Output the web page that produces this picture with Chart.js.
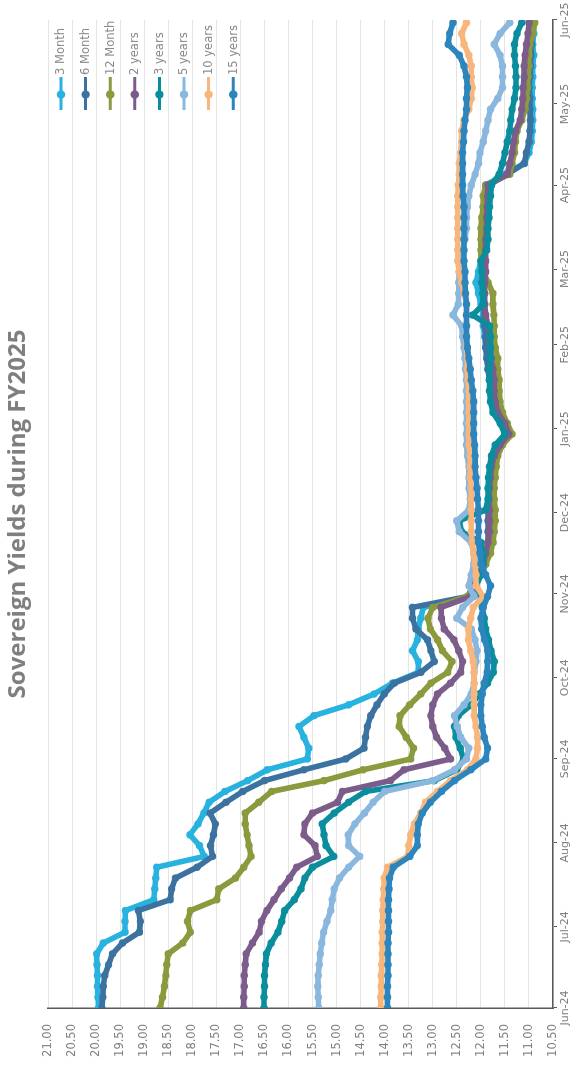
<!DOCTYPE html>
<html>
<head>
<meta charset="utf-8">
<script src="https://cdn.jsdelivr.net/npm/chart.js@4.4.1/dist/chart.umd.min.js"></script>
<style>
html, body { margin: 0; padding: 0; background: #ffffff; width: 576px; height: 1068px; overflow: hidden; }
/* the chart is laid out landscape and turned a quarter turn to stand upright on the page */
#wrap { position: absolute; left: 0; top: 0; width: 1068px; height: 576px;
        transform-origin: 0 0; transform: translateY(1068px) rotate(-90deg); }
canvas { display: block; }
</style>
</head>
<body>
<div id="wrap"><canvas id="c" width="1068" height="576"></canvas></div>
<script>
// observation dates
const dates = [
  '2024-06-28','2024-07-02','2024-07-06','2024-07-10','2024-07-14','2024-07-18','2024-07-22','2024-07-26','2024-07-30',
  '2024-08-03','2024-08-07','2024-08-11','2024-08-15','2024-08-19','2024-08-23','2024-08-27','2024-08-31',
  '2024-09-04','2024-09-08','2024-09-12','2024-09-16','2024-09-20','2024-09-24','2024-09-28',
  '2024-10-02','2024-10-06','2024-10-10','2024-10-14','2024-10-18','2024-10-22','2024-10-26','2024-10-30',
  '2024-11-03','2024-11-07','2024-11-11','2024-11-15','2024-11-19','2024-11-23','2024-11-27',
  '2024-12-01','2024-12-05','2024-12-09','2024-12-13','2024-12-17','2024-12-21','2024-12-25','2024-12-29',
  '2025-01-02','2025-01-06','2025-01-10','2025-01-14','2025-01-18','2025-01-22','2025-01-26','2025-01-30',
  '2025-02-03','2025-02-07','2025-02-11','2025-02-15','2025-02-19','2025-02-23','2025-02-27',
  '2025-03-03','2025-03-07','2025-03-11','2025-03-15','2025-03-19','2025-03-23','2025-03-27','2025-03-31',
  '2025-04-04','2025-04-08','2025-04-12','2025-04-16','2025-04-20','2025-04-24','2025-04-28',
  '2025-05-02','2025-05-06','2025-05-10','2025-05-14','2025-05-18','2025-05-22','2025-05-26','2025-05-30',
  '2025-06-03','2025-06-07','2025-06-11','2025-06-15','2025-06-19','2025-06-23','2025-06-27'
];

// month ticks of the date axis
const tickDates = ['2024-06-28','2024-07-28','2024-08-28','2024-09-28','2024-10-28','2024-11-28','2024-12-28',
                   '2025-01-28','2025-02-28','2025-03-28','2025-04-28','2025-05-28','2025-06-28'];
const tickLabels = ['Jun-24','Jul-24','Aug-24','Sep-24','Oct-24','Nov-24','Dec-24',
                    'Jan-25','Feb-25','Mar-25','Apr-25','May-25','Jun-25'];

// yields, percent
const yield3M = [
  19.95,19.96,19.97,19.97,19.98,19.99,19.85,19.40,19.40,19.39,18.80,18.78,18.76,18.74,17.75,17.85,18.05,
  17.88,17.76,17.65,17.32,16.85,16.44,15.61,15.58,15.68,15.78,15.47,14.75,14.22,13.84,13.30,
  13.30,13.42,13.32,13.30,13.25,13.20,12.21,
  12.10,12.00,11.90,11.85,11.75,11.75,11.78,11.80,11.80,11.82,11.80,11.78,11.75,11.60,11.40,11.50,
  11.70,11.75,11.80,11.82,11.85,11.85,11.90,11.92,11.95,11.95,12.00,12.05,12.10,12.05,12.00,
  11.98,11.95,11.95,11.95,11.95,11.93,11.90,11.50,11.10,11.00,10.95,10.93,10.92,10.92,10.93,
  10.93,10.92,10.92,10.90,10.92,10.90,10.90
];
const yield6M = [
  19.88,19.86,19.85,19.82,19.74,19.66,19.45,19.10,19.08,19.12,18.46,18.43,18.35,17.90,17.58,17.62,17.56,
  17.52,17.63,17.30,16.95,16.50,15.68,14.81,14.43,14.40,14.36,14.29,14.16,14.01,13.80,13.25,
  12.97,13.04,13.11,13.35,13.42,13.42,12.28,
  12.15,12.05,11.95,11.90,11.85,11.85,11.85,11.85,11.82,11.80,11.80,11.78,11.72,11.60,11.40,11.50,
  11.72,11.78,11.80,11.82,11.85,11.88,11.90,11.90,11.92,11.92,11.95,11.95,11.98,11.95,11.95,
  11.93,11.92,11.90,11.90,11.90,11.88,11.85,11.45,11.10,11.05,11.00,10.98,10.97,10.98,10.98,
  11.00,10.98,10.97,10.96,10.95,10.95,10.95
];
const yield12M = [
  18.67,18.62,18.58,18.55,18.53,18.50,18.20,18.04,18.10,18.04,17.49,17.45,17.10,16.93,16.78,16.82,16.86,
  16.90,16.90,16.62,16.35,15.26,14.45,13.46,13.40,13.55,13.70,13.68,13.48,13.25,13.04,12.69,
  12.60,12.80,12.90,13.05,13.10,13.00,12.28,
  12.10,12.00,11.90,11.80,11.75,11.72,11.70,11.70,11.72,11.72,11.70,11.68,11.65,11.55,11.35,11.45,
  11.55,11.60,11.62,11.62,11.65,11.65,11.70,11.72,11.72,11.73,11.75,11.75,11.85,11.95,12.00,
  12.00,12.00,12.00,11.98,11.95,11.95,11.90,11.40,11.35,11.30,11.28,11.25,11.15,11.08,11.05,
  11.03,11.02,11.00,11.00,10.98,10.92,10.88
];
const yield2Y = [
  16.93,16.93,16.92,16.92,16.90,16.88,16.75,16.61,16.56,16.45,16.30,16.15,15.98,15.83,15.40,15.45,15.68,
  15.66,15.50,14.98,14.88,13.88,13.60,12.63,12.75,12.92,13.00,13.04,13.00,12.90,12.63,12.42,
  12.38,12.46,12.56,12.76,12.82,12.83,12.21,
  12.15,12.05,11.95,11.90,11.85,11.82,11.82,11.82,11.83,11.82,11.80,11.78,11.72,11.60,11.42,11.50,
  11.65,11.70,11.72,11.72,11.75,11.78,11.80,11.82,11.85,11.90,11.92,11.92,11.92,11.90,11.90,
  11.90,11.90,11.88,11.88,11.87,11.86,11.85,11.45,11.40,11.35,11.32,11.28,11.18,11.15,11.13,
  11.12,11.10,11.10,11.08,11.05,11.02,11.00
];
const yield3Y = [
  16.51,16.51,16.50,16.50,16.48,16.46,16.36,16.22,16.14,16.08,15.88,15.74,15.66,15.50,15.06,15.22,15.26,
  15.30,15.05,14.75,14.40,12.97,12.50,12.36,12.43,12.52,12.55,12.47,12.20,12.03,11.86,11.74,
  11.72,11.79,11.84,11.90,11.93,11.97,12.00,
  12.10,12.00,11.95,11.95,12.00,12.40,12.45,11.90,11.85,11.85,11.84,11.82,11.78,11.70,11.50,11.60,
  11.75,11.80,11.82,11.82,11.82,11.80,11.80,11.80,11.82,12.17,11.95,11.96,11.97,11.98,12.00,
  11.88,11.85,11.85,11.83,11.82,11.80,11.78,11.62,11.55,11.50,11.45,11.40,11.38,11.35,11.30,
  11.27,11.27,11.28,11.30,11.30,11.25,11.15
];
const yield5Y = [
  15.37,15.38,15.39,15.38,15.36,15.34,15.31,15.27,15.20,15.12,15.09,15.05,14.94,14.75,14.52,14.75,14.76,
  14.62,14.42,14.24,14.00,13.00,12.55,12.30,12.25,12.42,12.49,12.55,12.35,12.20,12.14,12.14,
  12.10,12.08,12.12,12.20,12.50,12.38,12.14,
  12.25,12.20,12.15,12.15,12.20,12.45,12.50,12.25,12.22,12.25,12.25,12.25,12.28,12.30,12.30,12.30,
  12.30,12.30,12.30,12.30,12.32,12.33,12.35,12.38,12.40,12.58,12.47,12.46,12.46,12.45,12.42,
  12.38,12.33,12.30,12.30,12.28,12.25,12.20,12.12,12.05,12.02,11.95,11.90,11.85,11.80,11.65,
  11.55,11.55,11.55,11.60,11.72,11.60,11.40
];
const yield10Y = [
  14.08,14.08,14.07,14.07,14.06,14.05,14.05,14.05,14.04,14.04,14.03,14.02,14.01,13.94,13.52,13.50,13.46,
  13.38,13.25,13.15,12.90,12.63,12.28,12.10,12.07,12.07,12.10,12.14,12.14,12.14,12.14,12.14,
  12.16,12.21,12.26,12.26,12.21,12.16,11.95,
  12.10,12.10,12.12,12.15,12.18,12.20,12.20,12.20,12.20,12.20,12.22,12.22,12.22,12.25,12.25,12.25,
  12.25,12.25,12.25,12.27,12.28,12.28,12.30,12.30,12.30,12.30,12.30,12.35,12.40,12.45,12.48,
  12.48,12.48,12.48,12.48,12.48,12.48,12.47,12.45,12.45,12.42,12.40,12.40,12.35,12.25,12.20,
  12.18,12.20,12.20,12.25,12.35,12.40,12.30
];
const yield15Y = [
  13.94,13.94,13.94,13.93,13.93,13.93,13.93,13.92,13.92,13.92,13.92,13.91,13.90,13.82,13.48,13.32,13.32,
  13.30,13.22,13.05,12.82,12.55,12.21,11.90,11.86,11.93,11.97,12.00,12.00,11.97,11.93,11.87,
  11.86,11.86,11.92,11.98,12.00,11.95,11.86,
  11.80,11.90,12.00,12.02,12.05,12.05,12.05,12.05,12.07,12.08,12.10,12.12,12.12,12.13,12.15,12.15,
  12.15,12.15,12.17,12.20,12.22,12.25,12.28,12.30,12.30,12.30,12.30,12.32,12.33,12.33,12.35,
  12.35,12.35,12.35,12.35,12.35,12.37,12.38,12.38,12.38,12.38,12.36,12.35,12.33,12.30,12.30,
  12.28,12.30,12.35,12.45,12.68,12.65,12.58
];

const seriesNames  = ['3 Month','6 Month','12 Month','2 years','3 years','5 years','10 years','15 years'];
const seriesValues = [yield3M, yield6M, yield12M, yield2Y, yield3Y, yield5Y, yield10Y, yield15Y];
const seriesColors = ['#28b2df','#3b72a0','#8b9a3c','#7b5c8b','#0a8e9d','#8ab7dd','#f8b67c','#2d85bd'];

const DAY = 86400000;
const t0 = Date.parse(dates[0]);
const dayOf = s => (Date.parse(s) - t0) / DAY;
const xs = dates.map(dayOf);
const tickDays = tickDates.map(dayOf);

const datasets = seriesNames.map((name, i) => ({
  label: name,
  data: seriesValues[i].map((v, k) => ({ x: xs[k], y: v })),
  borderColor: seriesColors[i],
  backgroundColor: seriesColors[i],
  pointBackgroundColor: seriesColors[i],
  pointBorderWidth: 0,
  pointRadius: 3.7,
  pointHoverRadius: 3.7,
  borderWidth: 5.6,
  borderJoinStyle: 'round',
  borderCapStyle: 'round',
  tension: 0,
  order: seriesNames.length - 1 - i
}));

// series key, stacked in the upper right corner of the plot
const sideLegend = {
  id: 'sideLegend',
  afterDraw(chart) {
    const ctx = chart.ctx;
    const area = chart.chartArea;
    ctx.save();
    ctx.font = '11.5px "DejaVu Sans"';
    ctx.textBaseline = 'middle';
    ctx.textAlign = 'left';
    seriesNames.forEach((name, i) => {
      const y = area.top + 13 + i * 24.6;
      const x0 = area.right - 90;
      ctx.strokeStyle = seriesColors[i];
      ctx.lineWidth = 3;
      ctx.beginPath();
      ctx.moveTo(x0, y);
      ctx.lineTo(x0 + 33, y);
      ctx.stroke();
      ctx.fillStyle = seriesColors[i];
      ctx.beginPath();
      ctx.arc(x0 + 15.5, y, 4.2, 0, Math.PI * 2);
      ctx.fill();
      ctx.fillStyle = '#8a8a8a';
      ctx.fillText(name, x0 + 35, y + 0.5);
    });
    ctx.restore();
  }
};

new Chart(document.getElementById('c'), {
  type: 'line',
  data: { datasets },
  plugins: [sideLegend],
  options: {
    responsive: false,
    animation: false,
    devicePixelRatio: 1,
    events: [],
    layout: { padding: { left: 0, right: 20, top: 0, bottom: 0 } },
    plugins: {
      legend: { display: false },
      tooltip: { enabled: false },
      title: {
        display: true,
        fullSize: false,
        text: 'Sovereign Yields during FY2025',
        color: '#7f7f7f',
        font: { family: '"Open Sans"', size: 24, weight: 'bold', lineHeight: 1.2 },
        padding: { top: 4, bottom: 15.2 }
      }
    },
    scales: {
      x: {
        type: 'linear',
        min: 0,
        max: tickDays[tickDays.length - 1],
        afterBuildTicks: s => { s.ticks = tickDays.map(v => ({ value: v })); },
        afterFit: s => { s.height = 23; },
        grid: { drawOnChartArea: false, drawTicks: true, tickLength: 4, color: '#595959', lineWidth: 1 },
        border: { display: true, color: '#595959', width: 1.5 },
        ticks: {
          autoSkip: false, maxRotation: 0, minRotation: 0, padding: 2,
          color: '#7f7f7f', font: { family: '"DejaVu Sans"', size: 11 },
          callback: (v, i) => tickLabels[i]
        }
      },
      y: {
        min: 10.5,
        max: 21,
        afterFit: s => { s.width = 60; },
        grid: { drawTicks: false, color: '#e4e4e4', lineWidth: 1 },
        border: { display: true, color: '#595959', width: 1.5 },
        ticks: {
          stepSize: 0.5, padding: 16,
          color: '#7f7f7f', font: { family: '"DejaVu Sans"', size: 11.5 },
          callback: v => Number(v).toFixed(2)
        }
      }
    }
  }
});
</script>
</body>
</html>
